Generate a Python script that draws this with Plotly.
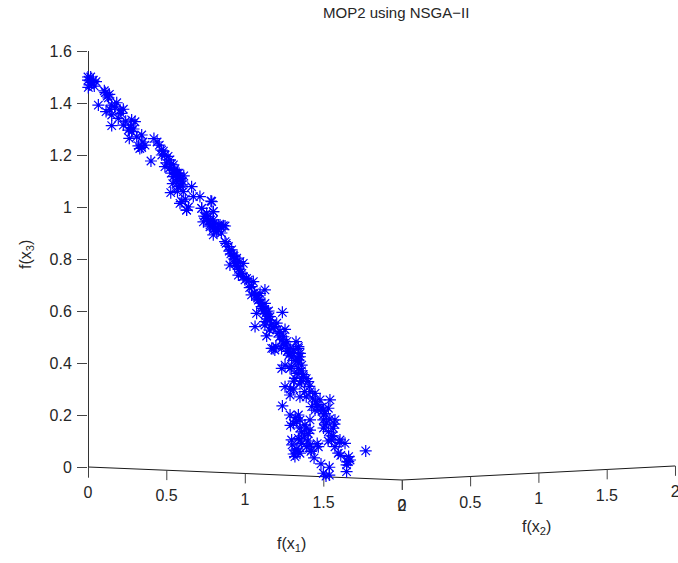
import plotly.graph_objects as go

# Projected horizontal position (in f(x1) axis units) and height (f(x3)) of each point
h_pos = [0.000,0.017,0.034,0.051,0.002,0.023,0.000,0.104,0.136,0.123,0.066,0.115,0.151,0.183,0.151,0.225,0.204,0.193,0.151,0.278,
0.299,0.225,0.257,0.278,0.263,0.342,0.321,0.342,0.363,0.420,0.454,0.469,0.490,0.401,0.522,0.544,0.490,0.565,0.544,0.586,
0.575,0.660,0.527,0.607,0.586,0.671,0.713,0.783,0.628,0.724,0.798,0.756,0.798,0.830,0.862,0.777,
0.52,0.55,0.56,0.58,0.54,0.59,0.50,0.47,0.44,0.60,0.57,0.53,0.61,
0.597,0.628,0.788,0.798,0.724,0.756,0.735,0.798,0.841,0.873,0.798,0.777,0.820,0.798,
0.873,0.894,0.915,0.926,0.947,0.968,0.989,0.904,0.936,0.958,0.958,0.989,1.021,1.053,1.042,1.127,1.096,1.042,1.085,1.127,1.106,
1.138,1.074,1.238,1.159,1.127,1.064,1.202,1.255,1.155,1.138,1.223,1.244,1.265,1.197,1.233,1.325,1.340,1.287,1.350,1.297,1.340,
1.255,1.361,1.297,1.170,
0.90,0.93,0.96,0.97,1.00,1.07,1.10,1.12,1.15,1.17,1.19,1.22,1.28,1.31,1.33,
1.180,1.244,1.340,1.287,1.350,1.234,1.287,1.340,1.372,1.318,1.403,1.255,1.287,1.350,1.446,1.414,1.478,1.238,1.531,1.499,1.425,
1.499,1.287,1.340,1.308,1.414,1.382,1.563,1.531,1.403,1.297,1.361,1.424,1.467,1.552,1.573,1.637,1.318,1.350,1.393,1.594,1.769,
1.669,1.647,1.647,1.484,1.537,1.516,1.537,1.499,1.658,
1.33,1.36,1.31,1.38,1.39,1.45,1.47,1.31,1.33,1.34,1.38,1.40,1.35,1.50,1.53,1.56,1.50,1.29,1.32,
0.010,0.040,0.130,0.110,0.170,0.140,0.210,0.240,0.270,0.290,0.310,0.350,0.330,0.480,0.510,0.530,0.550,0.570,0.590,0.560,0.600,
0.620,0.640,0.740,0.770,0.810,0.780,0.830,0.850,0.800,0.760,0.880,0.910,0.930,0.950,0.980,1.010,1.030,1.060,1.080,1.090,1.110,
1.130,1.140,1.160,1.180,1.210,1.240,1.260,1.270,1.300,1.320,1.340,1.360,1.370,1.350,1.310,1.290,1.390,1.410,1.430,1.460,1.490,
1.510,1.520,1.540,1.550,1.570,1.600,1.330,1.360,1.390,1.420,1.300,1.340,1.440,1.460,1.610,1.660,1.650,
1.350,1.414,1.446,1.510,1.350,1.318,1.414,1.541,1.573,1.605,1.127,1.255,1.190]
f3_values = [1.500,1.500,1.488,1.482,1.460,1.478,1.488,1.447,1.433,1.427,1.392,1.367,1.354,1.401,1.392,1.376,1.373,1.341,1.313,1.335,
1.328,1.315,1.296,1.290,1.264,1.277,1.235,1.229,1.238,1.263,1.238,1.219,1.200,1.177,1.181,1.162,1.155,1.129,1.117,1.104,
1.078,1.078,1.055,1.059,1.014,1.040,1.040,1.023,0.988,0.995,0.982,0.963,0.937,0.931,0.928,0.924,
1.15,1.14,1.10,1.13,1.09,1.08,1.17,1.20,1.25,1.10,1.06,1.13,1.12,
1.021,0.988,1.021,0.982,0.995,0.976,0.943,0.950,0.931,0.927,0.912,0.931,0.905,0.893,
0.867,0.848,0.835,0.815,0.803,0.790,0.783,0.777,0.783,0.771,0.738,0.732,0.719,0.713,0.694,0.681,0.668,0.662,0.642,0.629,0.617,
0.597,0.591,0.595,0.578,0.559,0.540,0.553,0.529,0.527,0.504,0.521,0.501,0.482,0.463,0.456,0.482,0.456,0.456,0.437,0.424,0.412,
0.392,0.392,0.386,0.456,
0.83,0.80,0.76,0.75,0.72,0.66,0.63,0.60,0.60,0.55,0.54,0.50,0.43,0.45,0.42,
0.456,0.476,0.463,0.437,0.424,0.379,0.379,0.379,0.347,0.341,0.328,0.309,0.277,0.270,0.283,0.290,0.258,0.235,0.226,0.219,0.232,
0.181,0.200,0.200,0.168,0.181,0.162,0.149,0.136,0.129,0.104,0.091,0.065,0.078,0.104,0.078,0.091,0.040,0.053,0.078,0.053,0.062,
0.027,0.008,-0.018,0.012,-0.001,-0.035,-0.031,-0.024,0.021,
0.36,0.33,0.30,0.29,0.27,0.25,0.22,0.05,0.07,0.11,0.12,0.10,0.15,0.15,0.10,0.12,0.20,0.16,0.19,
1.470,1.465,1.420,1.440,1.385,1.375,1.360,1.330,1.305,1.300,1.270,1.250,1.225,1.215,1.195,1.165,1.145,1.130,1.110,1.125,1.085,
1.030,1.000,0.965,0.945,0.920,0.950,0.915,0.900,0.925,0.955,0.860,0.820,0.810,0.775,0.745,0.725,0.690,0.670,0.650,0.645,0.610,
0.590,0.570,0.565,0.535,0.515,0.490,0.470,0.445,0.440,0.410,0.400,0.370,0.355,0.320,0.330,0.300,0.340,0.310,0.265,0.240,0.230,
0.205,0.170,0.185,0.120,0.165,0.095,0.175,0.135,0.150,0.060,0.085,0.060,0.035,0.090,0.045,0.040,0.020,
0.180,0.142,0.219,0.162,0.104,0.065,0.085,0.258,0.181,0.104,0.546,0.469,0.450]

f1_ticks = [0, 0.5, 1, 1.5, 2]
f2_ticks = [0, 0.5, 1, 1.5, 2]
f3_ticks = [0, 0.2, 0.4, 0.6, 0.8, 1, 1.2, 1.4, 1.6]
f1_labels = ["0", "0.5", "1", "1.5", "2"]
f2_labels = ["0", "0.5", "1", "1.5", "2"]
f3_labels = ["0", "0.2", "0.4", "0.6", "0.8", "1", "1.2", "1.4", "1.6"]

W, H = 678, 563
L = 88
PX_PER_X = 157
PX_PER_Y = 260
Y_ZERO_PX = 467
XMAX = (W - L) / PX_PER_X
YMAX = Y_ZERO_PX / PX_PER_Y
YMIN = -(H - Y_ZERO_PX) / PX_PER_Y
FONT = "Liberation Sans, Arial, sans-serif"
TXT = "#262626"
TICK_DROP = 0.038
LABEL_DROP = 0.104

def f1_point(v):
    return v, -0.05 * v / 2

def f2_point(v):
    return 2 + 0.87 * v, -0.05 + 0.054 * v / 2

fig = go.Figure()

def line(xs, ys, color="#000000"):
    fig.add_trace(go.Scatter(x=xs, y=ys, mode="lines", line=dict(color=color, width=1),
                             hoverinfo="skip", showlegend=False))

# vertical axis, and the two oblique floor axes
line([0.002, 0.002], [1.6, -0.041])
line([f1_point(-0.06)[0], f1_point(2)[0], f2_point(2)[0]], [f1_point(-0.06)[1], f1_point(2)[1], f2_point(2)[1]], "#1a1a1a")
for pts, ticks, labels in ((f1_point, f1_ticks, f1_labels), (f2_point, f2_ticks, f2_labels)):
    for v in ticks:
        x, y = pts(v)
        line([x + 0.002, x + 0.002], [y, y - TICK_DROP], "#444444")
    fig.add_trace(go.Scatter(x=[pts(v)[0] for v in ticks], y=[pts(v)[1] - LABEL_DROP for v in ticks],
                             mode="text", text=labels, textposition="middle center",
                             textfont=dict(family=FONT, size=16, color=TXT),
                             cliponaxis=False, hoverinfo="skip", showlegend=False))

fig.add_trace(go.Scatter(x=h_pos, y=f3_values, mode="markers", cliponaxis=False, showlegend=False,
                         marker=dict(symbol="asterisk-open", size=10, color="#0000ff",
                                     line=dict(color="#0000ff", width=1.2))))

fig.update_xaxes(range=[0, XMAX], visible=False, fixedrange=True, domain=[0, 1])
fig.update_yaxes(range=[YMIN, YMAX], tickvals=f3_ticks, ticktext=f3_labels, ticks="outside", ticklen=10,
                 tickcolor="#444444", tickwidth=1, showline=False, ticklabelstandoff=2,
                 showgrid=False, zeroline=False, tickfont=dict(family=FONT, size=16, color=TXT), fixedrange=True)
fig.update_layout(width=W, height=H, margin=dict(l=L, r=0, t=0, b=0), plot_bgcolor="white",
                  paper_bgcolor="white", showlegend=False)

def place(text, x, y, size=16, angle=0):
    fig.add_annotation(text=text, x=(x - L) / (W - L), y=1 - y / H, xref="paper", yref="paper", showarrow=False,
                       xanchor="center", yanchor="middle", textangle=angle,
                       font=dict(family=FONT, size=size, color=TXT))

place("MOP2 using NSGA\u2212II", 396, 13, size=15)
place("f(x<sub>1</sub>)", 291, 544)
place("f(x<sub>2</sub>)", 536, 527)
place("f(x<sub>3</sub>)", 26, 255, angle=-90)
fig.write_html("out.html", config={"displayModeBar": False},
               post_script="document.body.style.margin='0';document.body.style.overflow='hidden';")
